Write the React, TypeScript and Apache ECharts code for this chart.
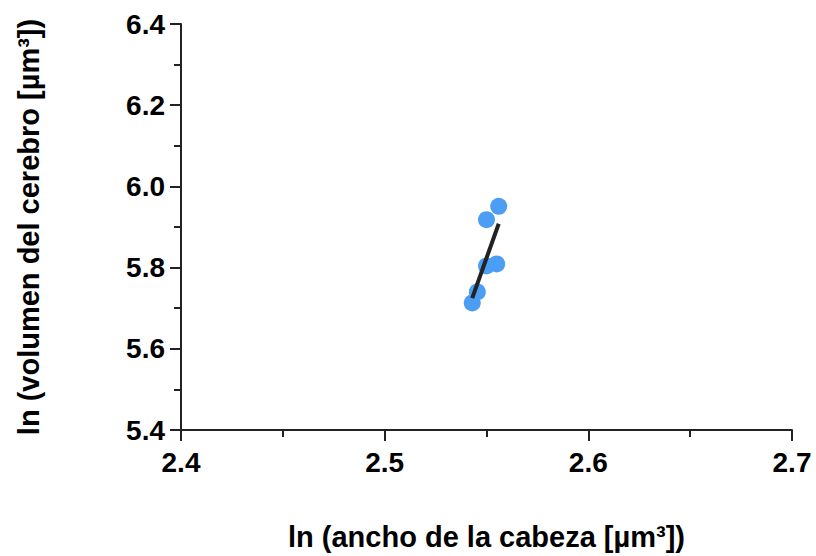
import React, { useEffect, useRef } from "react";
import * as echarts from "echarts";

const pointsX = [2.556, 2.55, 2.55, 2.555, 2.5455, 2.543];
const pointsY = [5.951, 5.918, 5.804, 5.809, 5.74, 5.713];
const fitX = [2.543, 2.556];
const fitY = [5.725, 5.908];
const xTitle = "ln (ancho de la cabeza [µm³])";
const yTitle = "ln (volumen del cerebro [µm³])";

export default function App() {
  const ref = useRef<HTMLDivElement>(null);
  useEffect(() => {
    if (!ref.current) return;
    const chart = echarts.init(ref.current, null, { renderer: "svg" });
    const font = "'Liberation Sans', Arial, sans-serif";
    const axisCommon = {
      axisLine: { show: true, lineStyle: { color: "#222", width: 2 } },
      axisTick: { show: true, length: 11, inside: false, lineStyle: { color: "#222", width: 2 } },
      minorTick: { show: true, splitNumber: 2, length: 7, lineStyle: { color: "#222", width: 2 } },
      splitLine: { show: false },
      axisLabel: { color: "#000", fontSize: 28, fontWeight: "bold", fontFamily: font },
      nameTextStyle: { color: "#000", fontSize: 29, fontWeight: "bold", fontFamily: font },
    };
    chart.setOption({
      animation: false,
      backgroundColor: "#fff",
      grid: { left: 181, right: 24, top: 24, bottom: 124, containLabel: false },
      xAxis: {
        type: "value",
        min: 2.4,
        max: 2.7,
        interval: 0.1,
        name: xTitle,
        nameLocation: "middle",
        nameGap: 92,
        ...axisCommon,
        axisLabel: { ...axisCommon.axisLabel, margin: 18, formatter: (v: number) => v.toFixed(1) },
      },
      yAxis: {
        type: "value",
        min: 5.4,
        max: 6.4,
        interval: 0.2,
        name: yTitle,
        nameLocation: "middle",
        nameGap: 138,
        ...axisCommon,
        axisLabel: { ...axisCommon.axisLabel, margin: 16, formatter: (v: number) => v.toFixed(1) },
      },
      series: [
        {
          type: "scatter",
          data: pointsX.map((x, i) => [x, pointsY[i]]),
          symbolSize: 17,
          itemStyle: { color: "#4C9EF5", opacity: 1 },
          z: 2,
        },
        {
          type: "line",
          data: fitX.map((x, i) => [x, fitY[i]]),
          symbol: "none",
          lineStyle: { color: "#222", width: 4 },
          z: 3,
        },
      ],
    });
    return () => chart.dispose();
  }, []);
  return (
    <div
      ref={ref}
      style={{ position: "fixed", left: 0, top: 0, width: 816, height: 556 }}
    />
  );
}
